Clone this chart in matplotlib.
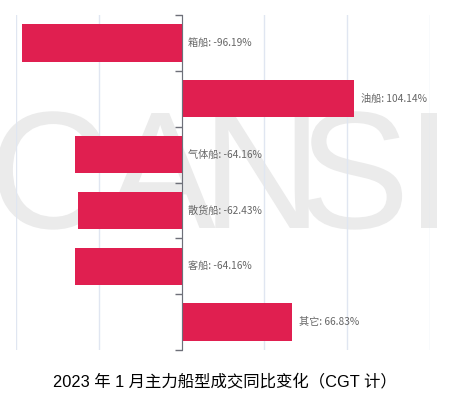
import matplotlib
matplotlib.use("Agg")
import matplotlib.pyplot as plt
from matplotlib.textpath import TextPath
from matplotlib.font_manager import FontProperties
from matplotlib.patches import PathPatch
from matplotlib.transforms import Affine2D

plt.rcParams['font.family'] = ['Noto Sans CJK SC', 'DejaVu Sans']

categories = ["箱船", "油船", "气体船", "散货船", "客船", "其它"]
changes = [-96.19, 104.14, -64.16, -62.43, -64.16, 66.83]
title = "2023 年 1 月主力船型成交同比变化（CGT 计）"

# watermark letters and their centre x (pixels)
wm_letters = ["C", "A", "N", "S", "I"]
wm_centres = [50, 160, 262, 354, 429]

BAR_COLOR = "#E01F50"
GRID_COLOR = "#E0E6F1"
AXIS_COLOR = "#6E7079"

fig = plt.figure(figsize=(4.5, 3.96), dpi=100)

# background axes in pixel units for the watermark
bg = fig.add_axes([0, 0, 1, 1], zorder=0)
bg.set_xlim(0, 450)
bg.set_ylim(0, 396)
bg.axis("off")
fp = FontProperties(family="Liberation Sans")
ref = TextPath((0, 0), "I", size=100, prop=fp).get_extents()
scale = 115 / ref.height
for ch, cx in zip(wm_letters, wm_centres):
    p = TextPath((0, 0), ch, size=100, prop=fp)
    e = p.get_extents()
    tr = (Affine2D().translate(-(e.x0 + e.x1) / 2, -ref.y0)
          .scale(scale).translate(cx, 396 - 228))
    bg.add_patch(PathPatch(tr.transform_path(p), facecolor="#EBEBEB",
                           edgecolor="none"))

ax = fig.add_axes([16 / 450, 1 - 350 / 396, (430 - 16) / 450, (350 - 15) / 396],
                  zorder=1)
ax.patch.set_alpha(0)

pos = list(range(len(categories)))
ax.barh(pos, changes, height=0.67, color=BAR_COLOR, zorder=3)

for i, (name, v) in enumerate(zip(categories, changes)):
    x = 4 if v < 0 else v + 4
    ax.text(x, i, f"{name}: {v:.2f}%", va="center", ha="left",
            fontsize=7.3, color="#666666", zorder=4)

ax.set_xlim(-100, 150)
ax.set_ylim(len(categories) - 0.5, -0.5)
ax.set_xticks([-100, -50, 0, 50, 100, 150])
ax.set_xticklabels([])
ax.tick_params(axis="x", length=0)
ax.grid(axis="x", color=GRID_COLOR, linewidth=1, zorder=0)

ax.set_yticks([p - 0.5 for p in pos] + [len(categories) - 0.5])
ax.set_yticklabels([])
ax.tick_params(axis="y", direction="out", length=5, color=AXIS_COLOR, width=1)

for side in ["top", "right", "bottom"]:
    ax.spines[side].set_visible(False)
ax.spines["left"].set_position(("data", 0))
ax.spines["left"].set_color(AXIS_COLOR)
ax.spines["left"].set_zorder(5)

fig.text(0.5, 1 - 381 / 396, title, ha="center", va="center",
         fontsize=11.8, color="#000000", family=["Liberation Sans", "Noto Sans CJK SC"])

fig.savefig("out.png", dpi=100)
